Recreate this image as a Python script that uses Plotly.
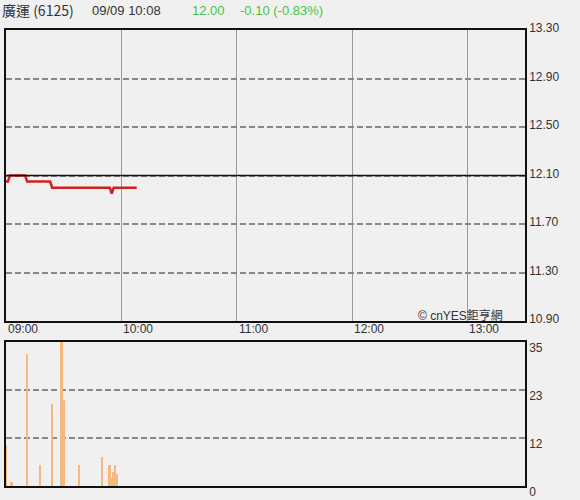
import plotly.graph_objects as go

# ---- data ----
title_name = "廣運 (6125)"
title_time = "09/09 10:08"
last_price = "12.00"
change_text = "-0.10 (-0.83%)"
copyright_text = "© cnYES鉅亨網"

prev_close = 12.10
price_times = ["09:00", "09:01", "09:02", "09:10", "09:11", "09:23", "09:24",
               "09:54", "09:55", "09:56", "10:08"]
price_values = [12.05, 12.05, 12.10, 12.10, 12.05, 12.05, 12.00,
                12.00, 11.95, 12.00, 12.00]

vol_times = ["09:00", "09:03", "09:11", "09:18", "09:24", "09:29", "09:30",
             "09:38", "09:50", "09:54", "09:55", "09:56", "09:57", "09:58"]
vol_values = [10, 1, 32, 5, 20, 35, 21, 5, 7, 5, 2, 3.5, 5, 3]

price_ticks = [10.90, 11.30, 11.70, 12.10, 12.50, 12.90, 13.30]
vol_max = 35
vol_ticks = [0, vol_max / 3, vol_max * 2 / 3, vol_max]
vol_ticktext = ["0", "12", "23", "35"]
hour_labels = ["09:00", "10:00", "11:00", "12:00", "13:00"]
x_start, x_end = "09:00", "13:30"

day = "2020-09-09 "
def t(s):
    return day + s + ":00"

BG = "#f0f0f0"
TXT = "#333333"
FONT = "Liberation Sans, Arial, sans-serif"

fig = go.Figure()
fig.add_trace(go.Scatter(
    x=[t(s) for s in price_times], y=price_values, mode="lines",
    line=dict(color="#d02020", width=2.5), xaxis="x", yaxis="y",
    hoverinfo="skip", showlegend=False))
fig.add_trace(go.Bar(
    x=[t(s) for s in vol_times], y=vol_values, width=55000,
    marker=dict(color="#f5b97e", line=dict(width=0)),
    xaxis="x2", yaxis="y2", hoverinfo="skip", showlegend=False, cliponaxis=False))

TOP, BOT = 30, 14
H = 500.0 - TOP - BOT
base = 500 - BOT
price_dom = [(base - 321) / H, 1.0]
vol_dom = [0.0, (base - 342) / H]

axis_common = dict(showline=True, mirror=True, linecolor="#111111", linewidth=1.5,
                   zeroline=False, ticks="", fixedrange=True, automargin=False)

fig.update_layout(
    width=580, height=500,
    margin=dict(l=6, r=55, t=TOP, b=BOT, autoexpand=False),
    paper_bgcolor=BG, plot_bgcolor=BG,
    font=dict(family=FONT, size=12, color=TXT),
    bargap=0,
    xaxis=dict(type="date", range=[t(x_start), t(x_end)], domain=[0, 1],
               anchor="y", showticklabels=False, showgrid=True,
               gridcolor="#999999", gridwidth=1,
               tick0=t("09:00"), dtick=3600000, **axis_common),
    yaxis=dict(domain=price_dom, range=[price_ticks[0], price_ticks[-1]], side="right",
               tickvals=price_ticks, ticktext=[f"{v:.2f}" for v in price_ticks],
               showgrid=True, gridcolor="#888888", gridwidth=2, griddash="6px,3px",
               ticklabelshift=-2, ticklabeloverflow="allow",
               tickfont=dict(size=12, color=TXT),
               anchor="x", **axis_common),
    xaxis2=dict(type="date", range=[t(x_start), t(x_end)], domain=[0, 1],
                anchor="y2", showticklabels=False, showgrid=False,
                matches="x", **axis_common),
    yaxis2=dict(domain=vol_dom, range=[0, vol_max], side="right",
                tickvals=vol_ticks, ticktext=vol_ticktext,
                showgrid=True, gridcolor="#888888", gridwidth=2, griddash="6px,3px",
                ticklabelshift=6, ticklabeloverflow="allow",
                tickfont=dict(size=12, color=TXT),
                anchor="x2", **axis_common),
)

# previous close line
fig.add_shape(type="line", xref="x domain", yref="y", x0=0, x1=1,
              y0=prev_close, y1=prev_close, line=dict(color="#111111", width=1.5))

ann = []
lab_y = (base - 329) / H
for h in hour_labels:
    ann.append(dict(x=t(h), y=lab_y, xref="x", yref="paper", text=h,
                    xanchor="left", yanchor="middle", showarrow=False,
                    xshift=0, font=dict(size=12, color=TXT)))

hy = 1 + 20 / H
ann.append(dict(x=-6 / 519, y=hy, xref="paper", yref="paper", text=title_name,
                xanchor="left", yanchor="middle", showarrow=False,
                font=dict(size=14, color=TXT, family="Noto Sans CJK TC, " + FONT)))
ann.append(dict(x=(90 - 6) / 519, y=hy, xref="paper", yref="paper", text=title_time,
                xanchor="left", yanchor="middle", showarrow=False,
                font=dict(size=13, color=TXT)))
ann.append(dict(x=(190 - 6) / 519, y=hy, xref="paper", yref="paper", text=last_price,
                xanchor="left", yanchor="middle", showarrow=False,
                font=dict(size=13, color="#44c544")))
ann.append(dict(x=(238 - 6) / 519, y=hy, xref="paper", yref="paper", text=change_text,
                xanchor="left", yanchor="middle", showarrow=False,
                font=dict(size=13, color="#44c544")))
ann.append(dict(x=(505 - 6) / 519, y=(base - 315) / H, xref="paper", yref="paper",
                text=copyright_text, xanchor="right", yanchor="middle", showarrow=False,
                font=dict(size=12, color=TXT, family=FONT + ", Noto Sans CJK TC")))
fig.update_layout(annotations=ann)

fig.write_html("out.html", config={"displayModeBar": False},
               post_script="document.body.style.margin='0';")
